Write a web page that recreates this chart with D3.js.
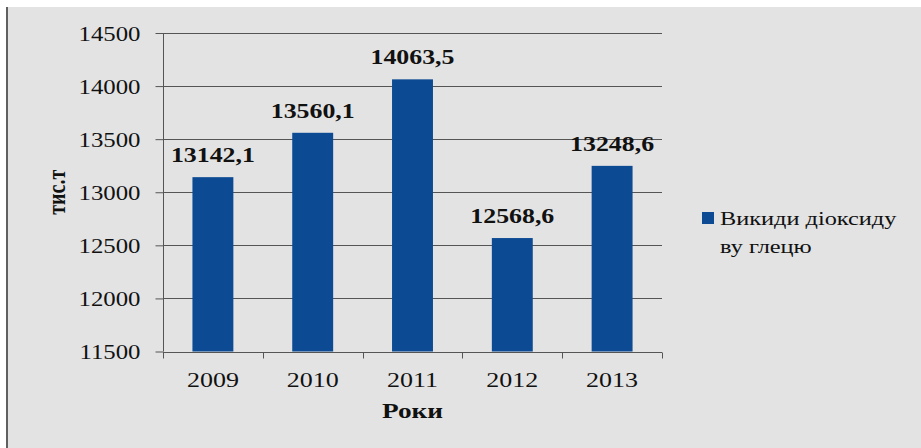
<!DOCTYPE html>
<html>
<head>
<meta charset="utf-8">
<script src="https://cdn.jsdelivr.net/npm/d3@7"></script>
<style>
  html, body { margin: 0; padding: 0; background: #ffffff; }
  svg { display: block; }
</style>
</head>
<body>
<svg id="chart" width="921" height="448"></svg>
<script>
// Carbon dioxide emissions by year, thousand tonnes
const years = ["2009", "2010", "2011", "2012", "2013"];
const emissions = [13142.1, 13560.1, 14063.5, 12568.6, 13248.6];
const valueLabels = ["13142,1", "13560,1", "14063,5", "12568,6", "13248,6"];
const yTicks = [11500, 12000, 12500, 13000, 13500, 14000, 14500];
const seriesName = ["Викиди діоксиду", "ву глецю"];

const W = 921, H = 448;
const plot = { left: 163, right: 662, top: 33, bottom: 351.5 };
const barColor = "#0c4a93";
const serif = "'Liberation Serif', 'Times New Roman', serif";

// widen glyphs horizontally (wide serif look)
function widen(sel, factor) {
  sel.each(function () {
    const len = this.getComputedTextLength();
    d3.select(this).attr("textLength", len * factor).attr("lengthAdjust", "spacingAndGlyphs");
  });
}

const svg = d3.select("#chart");

// panel background with dark left edge
svg.append("rect").attr("x", 7).attr("y", 7).attr("width", W - 7).attr("height", H - 7)
  .attr("fill", "#e3e3e3");
svg.append("rect").attr("x", 6).attr("y", 7).attr("width", 2).attr("height", H - 7)
  .attr("fill", "#606060");

const x = d3.scaleBand().domain(years).range([plot.left, plot.right]).paddingInner(0.59).paddingOuter(0.295);
const xOuter = d3.scaleBand().domain(years).range([plot.left, plot.right]);
const y = d3.scaleLinear().domain([11500, 14500]).range([plot.bottom, plot.top]);

// horizontal gridlines
svg.append("g").selectAll("line").data(yTicks.slice(1)).join("line")
  .attr("x1", plot.left).attr("x2", plot.right)
  .attr("y1", d => Math.round(y(d)) + 0.5).attr("y2", d => Math.round(y(d)) + 0.5)
  .attr("stroke", "#555").attr("stroke-width", 1);

// bars
svg.append("g").selectAll("rect").data(years).join("rect")
  .attr("x", d => x(d)).attr("width", x.bandwidth())
  .attr("y", (d, i) => y(emissions[i]))
  .attr("height", (d, i) => plot.bottom - y(emissions[i]))
  .attr("fill", barColor);

// y axis
const yAxis = svg.append("g").attr("transform", `translate(${plot.left + 0.5},0)`)
  .call(d3.axisLeft(y).tickValues(yTicks).tickSize(8).tickPadding(15).tickFormat(d3.format("d")));
yAxis.selectAll("line, path").attr("stroke", "#555");
yAxis.select(".domain").attr("d", `M0,${plot.top}V${plot.bottom}`);
yAxis.selectAll("text").attr("font-family", serif).attr("font-size", 20).attr("fill", "#111")
  .attr("dy", "0.35em");
widen(yAxis.selectAll("text"), 1.24);

// x axis with ticks at category boundaries
const xAxis = svg.append("g").attr("transform", `translate(0,${Math.round(plot.bottom) + 0.5})`)
  .call(d3.axisBottom(x).tickSize(0).tickPadding(20));
xAxis.select(".domain").attr("d", `M${plot.left},0H${plot.right}`).attr("stroke", "#555");
xAxis.selectAll("text").attr("font-family", serif).attr("font-size", 20).attr("fill", "#111");
widen(xAxis.selectAll("text"), 1.3);
xAxis.append("g").selectAll("line").data(years.concat(["end"])).join("line")
  .attr("x1", (d, i) => Math.round(plot.left + i * xOuter.step()) + 0.5)
  .attr("x2", (d, i) => Math.round(plot.left + i * xOuter.step()) + 0.5)
  .attr("y1", 0).attr("y2", 6).attr("stroke", "#555");

// value labels
const vl = svg.append("g").selectAll("text").data(years).join("text")
  .attr("x", d => x(d) + x.bandwidth() / 2)
  .attr("y", (d, i) => y(emissions[i]) - 15)
  .attr("text-anchor", "middle")
  .attr("font-family", serif).attr("font-size", 21).attr("font-weight", "bold")
  .attr("fill", "#111")
  .text((d, i) => valueLabels[i]);
widen(vl, 1.23);

// axis titles
const xt = svg.append("text").attr("x", (plot.left + plot.right) / 2).attr("y", 418)
  .attr("text-anchor", "middle").attr("font-family", serif).attr("font-size", 21)
  .attr("font-weight", "bold").attr("fill", "#111").text("Роки");
widen(xt, 1.3);
svg.append("text").attr("transform", `translate(65,${(plot.top + plot.bottom) / 2}) scale(1.25,1) rotate(-90)`)
  .attr("text-anchor", "middle").attr("font-family", serif).attr("font-size", 20)
  .attr("font-weight", "bold").attr("fill", "#111").text("тис.т");

// legend
const legend = svg.append("g");
legend.append("rect").attr("x", 702).attr("y", 212).attr("width", 12).attr("height", 12)
  .attr("fill", barColor);
const lt = legend.selectAll("text").data(seriesName).join("text")
  .attr("x", 720).attr("y", (d, i) => 225 + i * 28)
  .attr("font-family", serif).attr("font-size", 19).attr("fill", "#111")
  .text(d => d);
widen(lt, 1.28);
</script>
</body>
</html>
